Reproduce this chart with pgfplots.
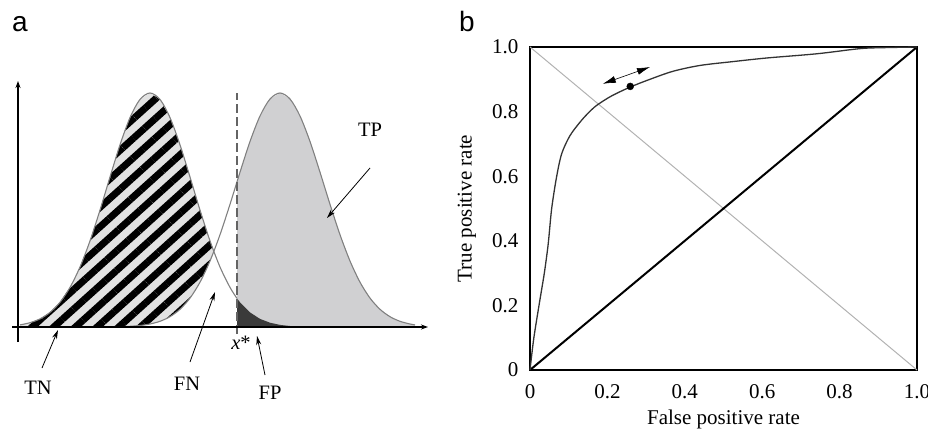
\documentclass[border=0pt]{standalone}
\usepackage{fontspec}
\setmainfont{Liberation Serif}
\newfontfamily\sansf{Liberation Sans}
\usepackage{pgfplots}
\usepackage{pgfplotstable}
\pgfplotsset{compat=1.18}
\usetikzlibrary{patterns.meta,arrows.meta}

\definecolor{tpgray}{RGB}{208,208,210}
\definecolor{fpdark}{RGB}{58,58,58}
\definecolor{hatchbg}{RGB}{226,226,226}
\definecolor{curvegray}{RGB}{128,128,128}
\definecolor{dashgray}{RGB}{100,100,100}

% negatives (left) distribution
\pgfplotstableread{
x y
20 2.1
30 4.3
40 8.1
50 14.6
60 24.7
70 39.6
80 60.0
90 86.1
100 116.9
110 150.0
120 182.2
130 209.4
140 227.6
150 234
160 227.6
170 209.4
180 182.2
190 150.0
200 116.9
210 86.1
220 60.0
230 39.6
237 28.6
}\leftc

% positives (right) distribution
\pgfplotstableread{
x y
120 0.3
130 0.7
140 1.5
150 3.0
160 5.7
170 10.3
180 17.7
190 28.9
200 44.8
210 66.0
220 92.3
230 122.7
240 154.8
250 185.5
260 211.0
270 228.0
280 234
290 228.0
300 211.0
310 185.5
320 154.8
330 122.7
340 92.3
350 66.0
360 44.8
370 28.9
380 17.7
390 10.3
400 5.7
410 3.0
415 2.1
}\rightc

% TP area
\pgfplotstableread{
x y
237 0
237 145.2
240 154.8
250 185.5
260 211.0
270 228.0
280 234
290 228.0
300 211.0
310 185.5
320 154.8
330 122.7
340 92.3
350 66.0
360 44.8
370 28.9
380 17.7
390 10.3
400 5.7
410 3.0
415 2.1
415 0
}\tparea

% FP area
\pgfplotstableread{
x y
237 0
237 28.6
240 24.7
250 14.6
260 8.1
270 4.3
280 2.1
290 1.0
297 0
}\fparea

% TN area (left curve minus right curve)
\pgfplotstableread{
x y
20 0
20 2.1
30 4.3
40 8.1
50 14.6
60 24.7
70 39.6
80 60.0
90 86.1
100 116.9
110 150.0
120 182.2
130 209.4
140 227.6
150 234
160 227.6
170 209.4
180 182.2
190 150.0
200 116.9
210 86.1
214 75.5
210 66.0
200 44.8
190 28.9
180 17.7
170 10.3
160 5.7
150 3.0
140 1.5
130 0.7
130 0
}\tnarea

\begin{document}
\begin{tikzpicture}
\path[use as bounding box] (0,0) rectangle (928pt,434pt);
\node[font=\sansf\fontsize{28}{30}\selectfont, anchor=base] at (20pt,402pt) {a};
\node[font=\sansf\fontsize{28}{30}\selectfont, anchor=base] at (467pt,402pt) {b};

\begin{axis}[at={(10pt,87pt)}, anchor=south west, scale only axis,
  width=420pt, height=270pt, xmin=10, xmax=430, ymin=-20, ymax=250,
  axis lines=none, clip=false, enlargelimits=false]
\addplot[draw=none, fill=tpgray] table {\tparea};
\addplot[draw=none, fill=fpdark] table {\fparea};
\addplot[draw=none, fill=hatchbg,
  postaction={pattern={Lines[angle=42,distance=14.5pt,line width=7pt]}, pattern color=black}]
  table {\tnarea};
\addplot[curvegray, line width=1.1pt, smooth] table {\leftc};
\addplot[curvegray, line width=1.1pt, smooth] table {\rightc};
\addplot[dashgray, line width=1.3pt, dash pattern=on 9pt off 4pt] coordinates {(237,-7) (237,234)};
\draw[line width=1.5pt, -{Stealth[length=7pt,width=5pt]}] (axis cs:12,0) -- (axis cs:428,0);
\draw[line width=1.5pt, -{Stealth[length=7pt,width=5pt]}] (axis cs:18,-15) -- (axis cs:18,246);
\begin{scope}[font=\fontsize{20.5}{24}\selectfont]
\node at (axis cs:38,-61) {TN};
\node at (axis cs:187,-57) {FN};
\node at (axis cs:270,-66) {FP};
\node at (axis cs:370,197) {TP};
\node at (axis cs:241,-16) {\textit{x}*};
\end{scope}
\draw[-{Stealth[length=9pt,width=5pt]}, line width=0.8pt] (axis cs:42,-41) -- (axis cs:58,-3);
\draw[-{Stealth[length=9pt,width=5pt]}, line width=0.8pt] (axis cs:190,-35) -- (axis cs:215,35);
\draw[-{Stealth[length=9pt,width=5pt]}, line width=0.8pt] (axis cs:265,-48) -- (axis cs:257,-9);
\draw[-{Stealth[length=9pt,width=5pt]}, line width=0.8pt] (axis cs:370,159) -- (axis cs:327,109);
\end{axis}

\begin{axis}[at={(530pt,64pt)}, anchor=south west, scale only axis,
  width=387pt, height=323pt, xmin=0, xmax=1, ymin=0, ymax=1,
  enlargelimits=false, clip=false,
  axis line style={line width=2.2pt},
  xtick={0,0.2,0.4,0.6,0.8,1}, xticklabels={0,0.2,0.4,0.6,0.8,1.0},
  ytick={0,0.2,0.4,0.6,0.8,1}, yticklabels={0,0.2,0.4,0.6,0.8,1.0},
  major tick length=0pt, tick style={draw=none},
  tick label style={font=\fontsize{21}{24}\selectfont},
  xticklabel style={yshift=-11pt}, yticklabel style={xshift=-8pt}]
\addplot[gray!60, line width=1pt] coordinates {(0,1) (1,0)};
\addplot[black, line width=2pt] coordinates {(0,0) (1,1)};
\addplot[black!80, line width=1.3pt, smooth, tension=0.5] coordinates {
(0,0) (0.01,0.1) (0.026,0.22) (0.037,0.30) (0.047,0.39) (0.056,0.50) (0.069,0.60)
(0.082,0.67) (0.103,0.725) (0.129,0.767) (0.150,0.795) (0.172,0.819) (0.21,0.848)
(0.259,0.876) (0.31,0.90) (0.37,0.925) (0.44,0.943) (0.526,0.955) (0.612,0.966)
(0.741,0.979) (0.853,0.995) (0.914,0.998) (1,1)};
\addplot[only marks, mark=*, mark size=3.5pt, black] coordinates {(0.259,0.878)};
\draw[{Latex[length=13pt,width=7pt]}-{Latex[length=13pt,width=7pt]}, line width=0.6pt]
  (axis cs:0.188,0.886) -- (axis cs:0.31,0.938);
\node[rotate=90, font=\fontsize{21}{24}\selectfont] at ([xshift=-63pt]axis description cs:0,0.5) {True positive rate};
\node[font=\fontsize{21}{24}\selectfont] at ([yshift=-49pt]axis description cs:0.5,0) {False positive rate};
\end{axis}
\end{tikzpicture}
\end{document}
